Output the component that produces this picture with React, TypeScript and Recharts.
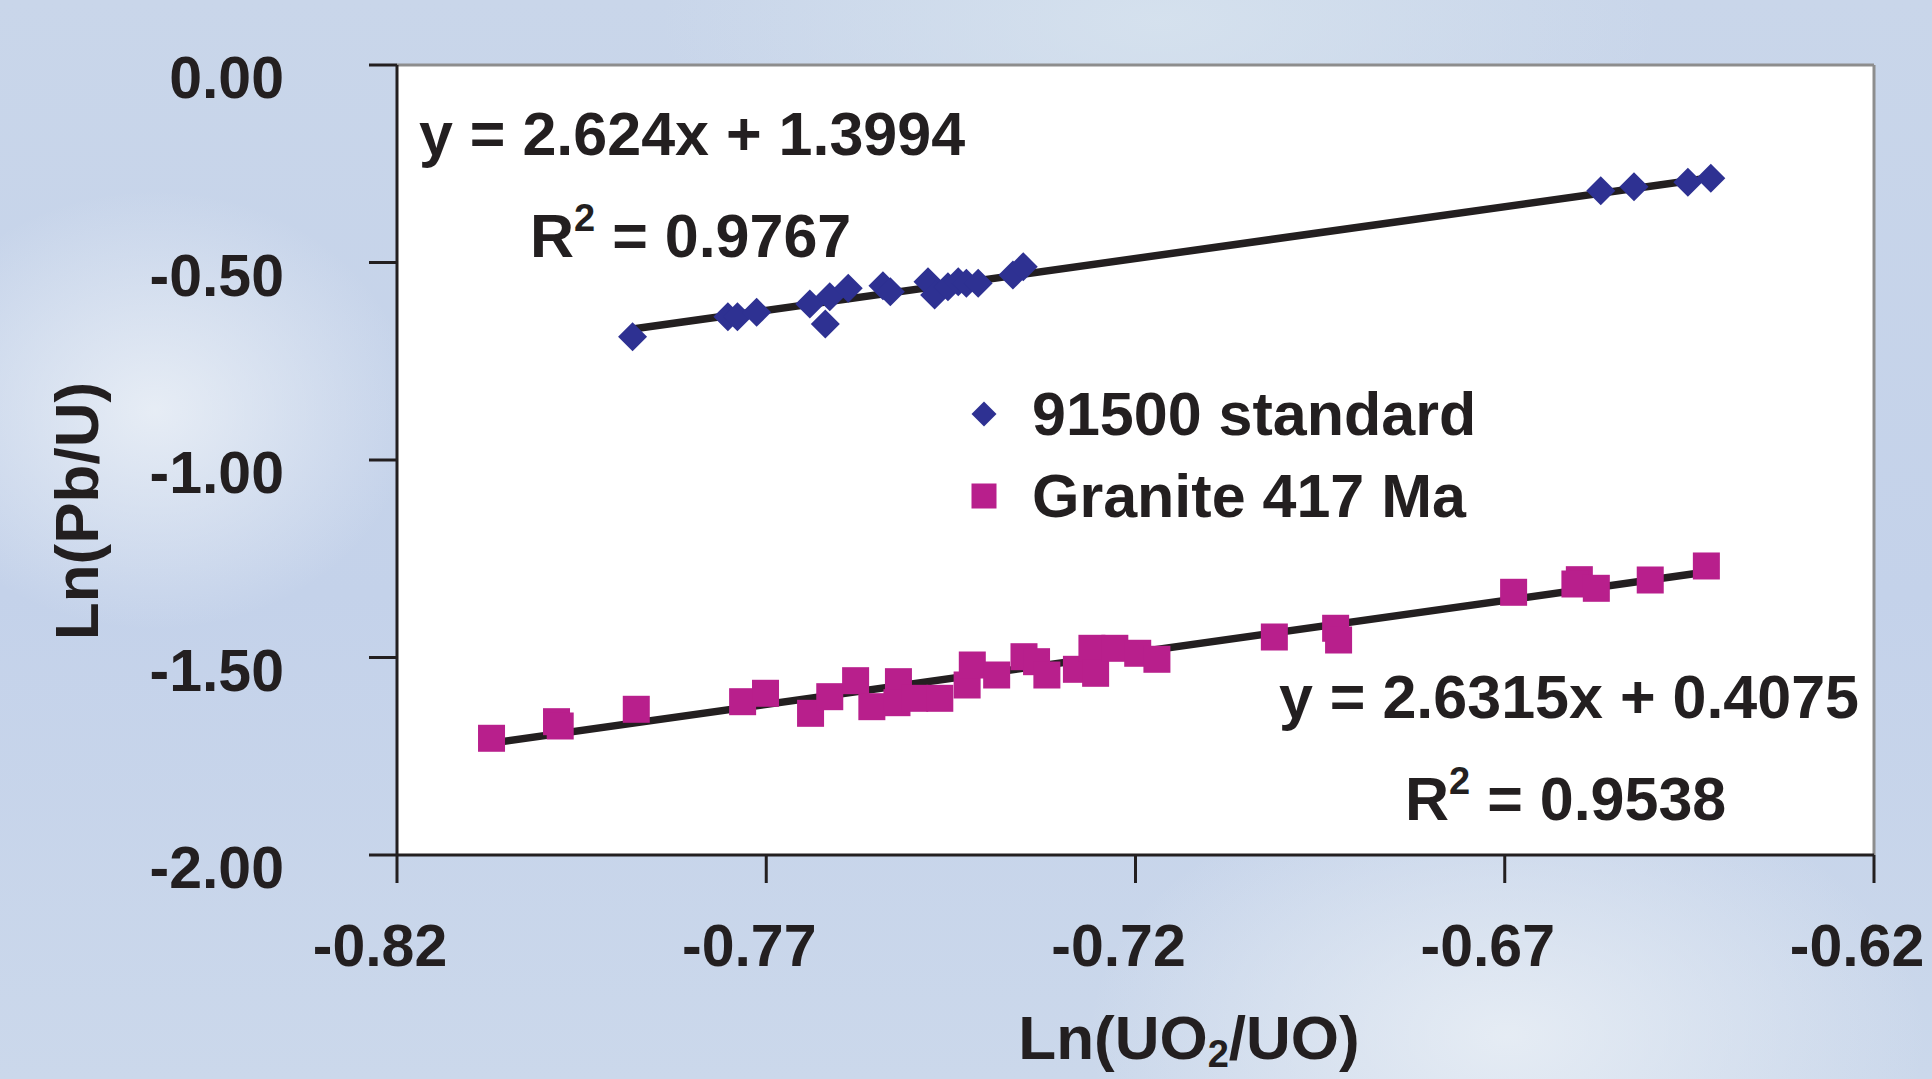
import {
  ScatterChart,
  Scatter,
  XAxis,
  YAxis,
  CartesianGrid,
  ReferenceLine,
  Legend,
} from 'recharts';

const W = 1932;
const H = 1079;
const FONT = '"Liberation Sans", Arial, Helvetica, sans-serif';
const INK = '#231f20';
const BLUE = '#2e3192';
const MAGENTA = '#b81f8c';
const FRAME = '#8d8d8d';

const X_TICKS = [-0.82, -0.77, -0.72, -0.67, -0.62];
const Y_TICKS = [-2, -1.5, -1, -0.5, 0];

// 91500 standard
const STD_X = [
  -0.7881, -0.7752, -0.7739, -0.7713, -0.7641, -0.762, -0.7614, -0.7589, -0.7542, -0.7532, -0.7481,
  -0.7472, -0.7454, -0.744, -0.7429, -0.7413, -0.7366, -0.7352, -0.657, -0.6525, -0.6452, -0.6421,
];
const STD_Y = [
  -0.6878, -0.6372, -0.6372, -0.6261, -0.6051, -0.6557, -0.5866, -0.5653, -0.5587, -0.5739, -0.5486,
  -0.5823, -0.5613, -0.5486, -0.5527, -0.5527, -0.5316, -0.5106, -0.3182, -0.3081, -0.297, -0.2868,
];

// Granite 417 Ma
const GRAN_X = [
  -0.8072, -0.7984, -0.7979, -0.7876, -0.7732, -0.7701, -0.764, -0.7614, -0.7579, -0.7557, -0.7521,
  -0.7523, -0.7499, -0.7465, -0.7428, -0.7421, -0.7388, -0.7351, -0.7334, -0.732, -0.728, -0.7259,
  -0.7254, -0.7228, -0.7197, -0.7171, -0.7012, -0.6929, -0.6925, -0.6688, -0.6599, -0.6605, -0.6576,
  -0.6503, -0.6427,
];
const GRAN_Y = [
  -1.7045, -1.6625, -1.6734, -1.6311, -1.6119, -1.5906, -1.6413, -1.5992, -1.5587, -1.6245, -1.5612,
  -1.6144, -1.6033, -1.6033, -1.5696, -1.519, -1.5443, -1.498, -1.5106, -1.5443, -1.5299, -1.4767,
  -1.54, -1.4767, -1.4893, -1.5045, -1.4481, -1.426, -1.4557, -1.3349, -1.303, -1.3139, -1.3248,
  -1.3038, -1.2683,
];

// trendlines as printed on the chart
const STD_FIT = { slope: 2.624, intercept: 1.3994, from: -0.7881, to: -0.6421 };
const GRAN_FIT = { slope: 2.6315, intercept: 0.4075, from: -0.8072, to: -0.6427 };

const zip = (xs: number[], ys: number[]) => xs.map((x, i) => ({ x, y: ys[i] }));
const stdData = zip(STD_X, STD_Y);
const granData = zip(GRAN_X, GRAN_Y);

const segment = (f: typeof STD_FIT) => [
  { x: f.from, y: f.slope * f.from + f.intercept },
  { x: f.to, y: f.slope * f.to + f.intercept },
];

const Diamond = ({ cx, cy, r = 14.5, fill = BLUE }: any) => (
  <polygon points={`${cx},${cy - r} ${cx + r},${cy} ${cx},${cy + r} ${cx - r},${cy}`} fill={fill} />
);

const Square = ({ cx, cy, r = 13.5, fill = MAGENTA }: any) => (
  <rect x={cx - r} y={cy - r} width={r * 2} height={r * 2} fill={fill} />
);

const XTick = ({ x, y, payload }: any) => (
  <text
    x={x - 17}
    y={y + 81}
    textAnchor="middle"
    fontFamily={FONT}
    fontWeight={700}
    fontSize={59}
    fill={INK}
  >
    {Number(payload.value).toFixed(2)}
  </text>
);

const YTick = ({ x, y, payload }: any) => (
  <text
    x={x - 83}
    y={y + 33}
    textAnchor="end"
    fontFamily={FONT}
    fontWeight={700}
    fontSize={59}
    fill={INK}
  >
    {Number(payload.value).toFixed(2)}
  </text>
);

const renderLegend = ({ payload }: any) => (
  <div style={{ fontFamily: FONT, fontWeight: 700, fontSize: 61, color: INK, lineHeight: '82px' }}>
    {(payload || []).map((entry: any) => (
      <div key={entry.value} style={{ display: 'flex', alignItems: 'center', whiteSpace: 'nowrap' }}>
        <svg width={48} height={30} style={{ marginRight: 24 }}>
          {entry.value === '91500 standard' ? (
            <Diamond cx={24} cy={15} r={12.5} />
          ) : (
            <Square cx={24} cy={15} r={12.5} />
          )}
        </svg>
        <span>{entry.value}</span>
      </div>
    ))}
  </div>
);

const txt = { fontFamily: FONT, fontWeight: 700, fill: INK } as const;

export default function App() {
  return (
    <div
      style={{
        position: 'absolute',
        left: 0,
        top: 0,
        width: W,
        height: H,
        overflow: 'hidden',
        background:
          'radial-gradient(ellipse 260px 220px at 8% 38%, rgba(236,241,247,0.85), rgba(236,241,247,0) 100%),' +
          'radial-gradient(ellipse 420px 260px at 78% 96%, rgba(232,238,245,0.9), rgba(232,238,245,0) 100%),' +
          'radial-gradient(ellipse 500px 200px at 60% 2%, rgba(214,226,238,0.9), rgba(214,226,238,0) 100%),' +
          'linear-gradient(180deg, #c9d6ea 0%, #c4d2ea 55%, #cbd8eb 100%)',
      }}
    >
      <ScatterChart width={W} height={H} margin={{ top: 65, right: 58, bottom: 0, left: 0 }}>
        <CartesianGrid fill="#ffffff" horizontal={false} vertical={false} />
        <XAxis
          type="number"
          dataKey="x"
          domain={[-0.82, -0.62]}
          ticks={X_TICKS}
          height={224}
          tickSize={28}
          tick={<XTick />}
          axisLine={{ stroke: INK, strokeWidth: 3 }}
          tickLine={{ stroke: INK, strokeWidth: 3 }}
          allowDataOverflow
        />
        <YAxis
          type="number"
          dataKey="y"
          domain={[-2, 0]}
          ticks={Y_TICKS}
          width={397}
          tickSize={28}
          tick={<YTick />}
          axisLine={{ stroke: INK, strokeWidth: 3 }}
          tickLine={{ stroke: INK, strokeWidth: 3 }}
          allowDataOverflow
        />
        <ReferenceLine y={0} stroke={FRAME} strokeWidth={3} />
        <ReferenceLine x={-0.62} stroke={FRAME} strokeWidth={3} />
        <Scatter
          name="91500 standard"
          data={stdData}
          fill={BLUE}
          shape={(p: any) => <Diamond cx={p.cx} cy={p.cy} />}
          isAnimationActive={false}
        />
        <Scatter
          name="Granite 417 Ma"
          data={granData}
          fill={MAGENTA}
          shape={(p: any) => <Square cx={p.cx} cy={p.cy} />}
          isAnimationActive={false}
        />
        <ReferenceLine segment={segment(STD_FIT)} stroke={INK} strokeWidth={7.5} />
        <ReferenceLine segment={segment(GRAN_FIT)} stroke={INK} strokeWidth={7.5} />
        <Legend
          layout="vertical"
          align="center"
          verticalAlign="middle"
          content={renderLegend}
          wrapperStyle={{ left: 960, top: 373, width: 700 }}
        />
      </ScatterChart>

      <svg
        width={W}
        height={H}
        style={{ position: 'absolute', left: 0, top: 0, pointerEvents: 'none' }}
      >
        <text x={419} y={155} fontSize={61} {...txt}>
          y = 2.624x + 1.3994
        </text>
        <text x={530} y={257} fontSize={61} {...txt}>
          R<tspan fontSize={38} dy={-26}>2</tspan>
          <tspan dy={26}> = 0.9767</tspan>
        </text>
        <text x={1279} y={718} fontSize={61} {...txt}>
          y = 2.6315x + 0.4075
        </text>
        <text x={1405} y={820} fontSize={61} {...txt}>
          R<tspan fontSize={38} dy={-26}>2</tspan>
          <tspan dy={26}> = 0.9538</tspan>
        </text>
        <text transform="translate(98,511) rotate(-90)" textAnchor="middle" fontSize={62} {...txt}>
          Ln(Pb/U)
        </text>
        <text x={1189} y={1059} textAnchor="middle" fontSize={62} {...txt}>
          Ln(UO<tspan fontSize={38} dy={8}>2</tspan>
          <tspan dy={-8}>/UO)</tspan>
        </text>
      </svg>
    </div>
  );
}
